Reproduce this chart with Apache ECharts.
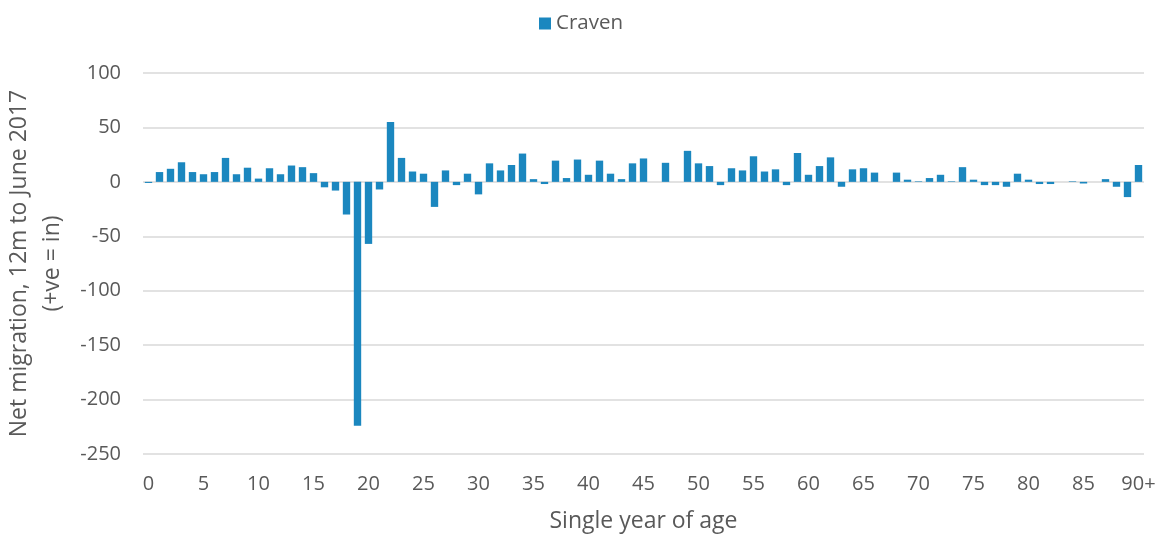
<!DOCTYPE html>
<html><head><meta charset="utf-8">
<script src="https://cdn.jsdelivr.net/npm/echarts@6/dist/echarts.min.js"></script>
<style>html,body{margin:0;padding:0;background:#fff}#c{width:1162px;height:538px}</style>
</head><body><div id="c"></div>
<script>
const categories = [];
for (let i = 0; i < 90; i++) categories.push(String(i));
categories.push('90+');
const seriesName = 'Craven';
const values = [
  -1, 9, 12, 18, 9, 7, 9, 22, 7, 13,
  3, 12.5, 7, 15, 13.5, 8, -5, -8, -30, -224,
  -57, -7, 55, 22, 9.5, 7.5, -23, 10.5, -3, 7.5,
  -11.5, 17, 10.5, 15.5, 26, 2.5, -2, 19.5, 3.5, 20.5,
  6.5, 19.5, 7.5, 2.5, 17, 21.5, 0, 17.5, 0, 28.5,
  17, 14.5, -3, 12.5, 10.5, 23.5, 9.5, 11.5, -3, 26.5,
  6.5, 14.5, 22.5, -4.5, 11.5, 12.5, 8.5, 0, 8.5, 2,
  0.5, 3.5, 6.5, 0.5, 13.5, 2, -3, -3, -4.5, 7.5,
  2, -2, -2, 0, 0.5, -1.5, 0, 2.5, -4.5, -14, 15.5
];
const yTitle = 'Net migration, 12m to June 2017\n(+ve = in)';
const xTitle = 'Single year of age';

const font = 'Open Sans, Liberation Sans, sans-serif';
const chart = echarts.init(document.getElementById('c'));
chart.setOption({
  animation: false,
  textStyle: {fontFamily: font},
  legend: {
    data: [seriesName], top: 8, left: 'center',
    icon: 'rect', itemWidth: 12, itemHeight: 12, itemGap: 7,
    textStyle: {fontSize: 20.5, color: '#595959', fontFamily: font}
  },
  grid: {left: 143, right: 18, top: 73, bottom: 84, containLabel: false, outerBoundsMode: 'none'},
  xAxis: {
    type: 'category', data: categories,
    axisLine: {show: false, onZero: false},
    axisTick: {show: false},
    axisLabel: {interval: 4, color: '#595959', fontSize: 20, margin: 20, fontFamily: font},
    name: xTitle, nameLocation: 'middle', nameGap: 56,
    nameTextStyle: {fontSize: 23, color: '#595959', fontFamily: font}
  },
  yAxis: {
    type: 'value', min: -250, max: 100, interval: 50,
    axisLine: {show: false}, axisTick: {show: false},
    splitLine: {lineStyle: {color: '#d9d9d9', width: 1.5}},
    axisLabel: {color: '#595959', fontSize: 20, margin: 22, fontFamily: font},
    name: yTitle, nameLocation: 'middle', nameGap: 65, nameRotate: 90,
    nameTextStyle: {fontSize: 23, color: '#595959', lineHeight: 33, fontFamily: font}
  },
  series: [{
    name: seriesName, type: 'bar', data: values,
    barCategoryGap: '33%',
    itemStyle: {color: '#1b87bf'}
  }]
});
</script></body></html>
